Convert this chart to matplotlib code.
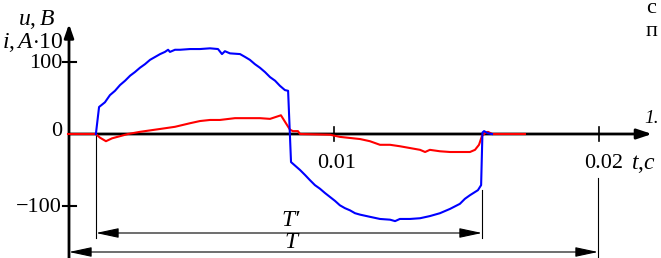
import numpy as np
import matplotlib
matplotlib.use("Agg")
import matplotlib.pyplot as plt

plt.rcParams['font.family'] = ['Liberation Serif', 'DejaVu Serif']
plt.rcParams['mathtext.fontset'] = 'custom'
plt.rcParams['mathtext.rm'] = 'Liberation Serif'
plt.rcParams['mathtext.it'] = 'Liberation Serif:italic'

# voltage u, V  (time in ms)
t_u = [1.05, 1.17, 1.39, 1.58, 1.77, 1.96, 2.15, 2.34, 2.52, 2.71, 2.90, 3.09,
       3.28, 3.47, 3.65, 3.77, 3.84, 4.03, 4.22, 4.60, 4.97, 5.35, 5.65, 5.80,
       5.91, 6.10, 6.48, 6.67, 6.85, 7.04, 7.23, 7.42, 7.61, 7.80, 7.98, 8.17,
       8.29, 8.40, 8.74, 8.93, 9.11, 9.30, 9.49, 9.68, 9.87, 10.06, 10.24,
       10.43, 10.62, 10.81, 11.00, 11.37, 11.75, 12.13, 12.32, 12.50, 12.88,
       13.26, 13.63, 14.01, 14.39, 14.76, 14.95, 15.14, 15.44, 15.56, 15.61,
       15.67, 15.82, 15.97]
u = [0, 37.5, 44, 54, 60, 68, 74, 81, 86, 92, 97, 103,
     107, 111, 114, 117, 114, 117, 117, 118, 118, 119, 118, 111,
     115, 112, 111, 107, 103, 97, 92, 86, 79, 74, 67, 61,
     60, -39, -50, -57, -64, -71, -76, -82, -87.5, -93, -99,
     -103, -106, -110, -112, -115, -118, -119, -121, -118, -118,
     -117, -114, -110, -104, -97, -90, -85, -78, -71, 2,
     4, 1, 0]

# current i, A*10
t_i = [0.0, 1.05, 1.20, 1.43, 1.66, 1.96, 2.26, 2.71, 3.09, 3.47, 4.03, 4.60,
       4.97, 5.35, 5.72, 6.29, 6.85, 7.23, 7.61, 8.02, 8.36, 8.47, 8.66, 8.74,
       9.87, 10.24, 10.62, 11.00, 11.37, 11.75, 12.13, 12.50, 12.88, 13.26,
       13.45, 13.63, 14.01, 14.39, 14.76, 15.14, 15.33, 15.48, 15.59, 15.71,
       15.82, 15.97, 17.21]
i = [0, 0, -5, -10, -6, -3, 0, 3, 5, 7, 10, 15,
     18, 19.5, 19.5, 22, 22, 22, 21, 26, 6, 4, 4, 0,
     -1, -4, -5.5, -7, -10, -15, -15, -17, -19.5, -22,
     -25, -22, -24, -25, -25, -25, -22, -15, -3, 1.5,
     3, 0, 0]

t_u = np.array(t_u) / 1000
t_i = np.array(t_i) / 1000

# pixel mapping of the scanned figure
W, H = 661, 258
x0, sx = 68, 26550.0     # px of t=0, px per second
y0, sy = 134, 0.72       # px of 0, px per unit

fig = plt.figure(figsize=(W / 100, H / 100), dpi=100)
ax = fig.add_axes([0, 0, 1, 1])
ax.set_xlim(-x0 / sx, (W - x0) / sx)
ax.set_ylim((y0 - H) / sy, y0 / sy)
ax.axis('off')

def px(x):
    return (x - x0) / sx

def py(y):
    return (y0 - y) / sy

# axes with arrows
ax.annotate('', xy=(px(652), 0), xytext=(px(69), 0),
            arrowprops=dict(arrowstyle='-|>,head_length=0.9,head_width=0.3',
                            color='black', lw=2, shrinkA=0, shrinkB=0))
ax.annotate('', xy=(px(69), py(24)), xytext=(px(69), py(262)),
            arrowprops=dict(arrowstyle='-|>,head_length=0.8,head_width=0.28',
                            color='black', lw=2, shrinkA=0, shrinkB=0))

# ticks
for v in (100, -100):
    ax.plot([px(63), px(76)], [v, v], color='black', lw=1.5)
for tt in (0.01, 0.02):
    ax.plot([tt, tt], [py(127), py(141)], color='black', lw=1.2)

ax.plot(t_i, i, color='#ff0000', lw=1.5, zorder=3)
ax.plot(t_u, u, color='#0000ff', lw=1.5, zorder=4)

# dimension lines
ax.plot([px(96), px(96)], [0, py(238)], color='black', lw=0.8)
ax.plot([px(482), px(482)], [py(190), py(238)], color='black', lw=0.8)
ax.plot([px(598), px(598)], [py(178), py(260)], color='black', lw=0.8)
dim = dict(arrowstyle='<|-|>,head_length=1.4,head_width=0.3', color='black',
           lw=0.8, shrinkA=0, shrinkB=0)
ax.annotate('', xy=(px(482), py(233)), xytext=(px(96), py(233)), arrowprops=dim)
ax.annotate('', xy=(px(598), py(252)), xytext=(px(69), py(252)), arrowprops=dim)

fs = 16
ax.text(px(291), py(221), "T\u2032", fontsize=17, style='italic', ha='center', va='center')
ax.text(px(291), py(243), "T", fontsize=17, style='italic', ha='center', va='center')

ax.text(px(37), py(19), r"$u,B$", fontsize=17, ha='center', va='center')
ax.text(px(64), py(42), r"$i,A\mathrm{\cdot 10}$", fontsize=17, ha='right', va='center')
ax.text(px(62), py(63), "100", fontsize=fs, ha='right', va='center')
ax.text(px(62), py(131), "0", fontsize=fs, ha='right', va='center')
ax.text(px(62), py(207), "\u2212100", fontsize=fs, ha='right', va='center')
ax.text(px(337), py(163), "0.01", fontsize=fs, ha='center', va='center')
ax.text(px(584), py(164), "0.02", fontsize=fs, ha='left', va='center')
ax.text(px(631), py(164), r"$t$,$\mathit{с}$", fontsize=17, ha='left', va='center')

# page text at the right edge
ax.text(px(646), py(8), "с", fontsize=fs, ha='left', va='center')
ax.text(px(646), py(31), "п", fontsize=fs, ha='left', va='center')
ax.text(px(644), py(118), "1.", fontsize=fs - 2, style='italic', ha='left', va='center')

fig.savefig('out.png', dpi=100)
